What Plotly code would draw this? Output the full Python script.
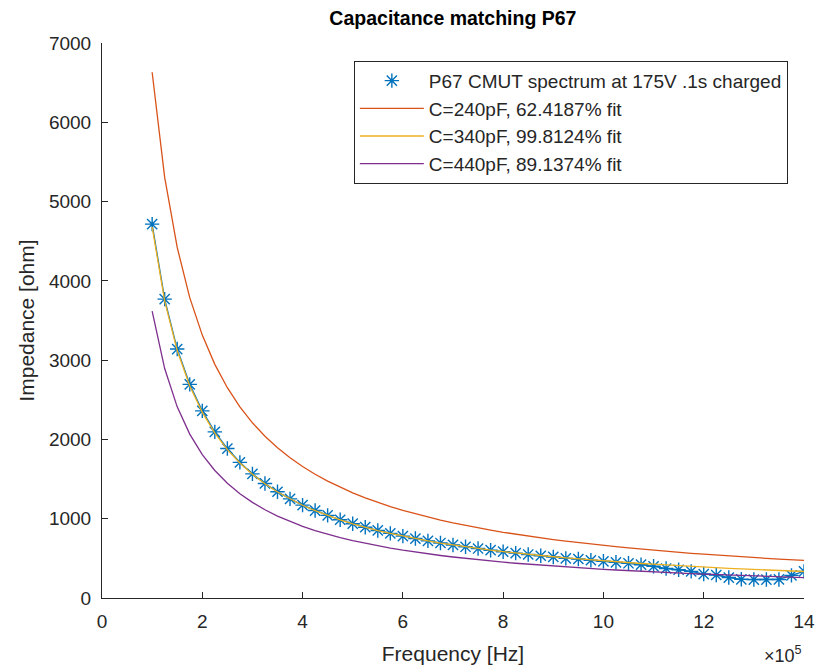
import plotly.graph_objects as go

# Frequency in units of 1e5 Hz
freq = [1.00, 1.25, 1.50, 1.75, 2.00, 2.25, 2.50, 2.75, 3.00, 3.25, 3.50, 3.75,
        4.00, 4.25, 4.50, 4.75, 5.00, 5.25, 5.50, 5.75, 6.00, 6.25, 6.50, 6.75,
        7.00, 7.25, 7.50, 7.75, 8.00, 8.25, 8.50, 8.75, 9.00, 9.25, 9.50, 9.75,
        10.00, 10.25, 10.50, 10.75, 11.00, 11.25, 11.50, 11.75, 12.00, 12.25,
        12.50, 12.75, 13.00, 13.25, 13.50, 13.75, 14.00]

measured = [4715, 3770, 3140, 2695, 2360, 2095, 1885, 1710, 1565, 1445, 1340, 1250,
            1172, 1103, 1042, 987, 937, 893, 852, 815, 781, 750, 721, 694,
            669, 646, 624, 603, 584, 566, 549, 533, 518, 500, 492, 476,
            463, 450, 438, 420, 400, 372, 356, 336, 302, 290,
            258, 236, 233, 233, 234, 285, 336]

fit_240 = [6631, 5305, 4421, 3789, 3316, 2947, 2652, 2411, 2210, 2040, 1895, 1768,
           1658, 1560, 1474, 1396, 1326, 1263, 1206, 1153, 1105, 1061, 1020, 982,
           947, 915, 884, 856, 829, 804, 780, 758, 737, 717, 698, 680,
           663, 647, 632, 617, 603, 589, 577, 564, 553, 541,
           530, 520, 510, 500, 491, 482, 474]

fit_340 = [4681, 3745, 3121, 2675, 2341, 2080, 1872, 1702, 1560, 1440, 1337, 1248,
           1170, 1101, 1040, 985, 936, 892, 851, 814, 780, 749, 720, 693,
           669, 646, 624, 604, 585, 567, 551, 535, 520, 506, 493, 480,
           468, 457, 446, 435, 426, 416, 407, 398, 390, 382,
           374, 367, 360, 353, 347, 340, 334]

fit_440 = [3617, 2894, 2411, 2067, 1809, 1608, 1447, 1315, 1206, 1113, 1033, 965,
           904, 851, 804, 761, 723, 689, 658, 629, 603, 579, 556, 536,
           517, 499, 482, 467, 452, 438, 426, 413, 402, 391, 381, 371,
           362, 353, 344, 336, 329, 322, 315, 308, 301, 295,
           289, 284, 278, 273, 268, 263, 258]

names = ["P67 CMUT spectrum at 175V .1s charged",
         "C=240pF, 62.4187% fit",
         "C=340pF, 99.8124% fit",
         "C=440pF, 89.1374% fit"]

BLUE, ORANGE, YELLOW, PURPLE = "#0072BD", "#D95319", "#EDB120", "#7E2F8E"
AX = "#262626"
FONT = "Arial, Liberation Sans, Helvetica, sans-serif"

fig = go.Figure()
fig.add_trace(go.Scatter(x=freq, y=measured, mode="lines",
                         line=dict(color=BLUE, width=1.3), showlegend=False,
                         hoverinfo="skip"))
fig.add_trace(go.Scatter(x=freq, y=measured, mode="markers", name=names[0],
                         marker=dict(symbol="asterisk-open", size=12, color=BLUE,
                                     line=dict(color=BLUE, width=1.4))))
fig.add_trace(go.Scatter(x=freq, y=fit_240, mode="lines", name=names[1],
                         line=dict(color=ORANGE, width=1.3)))
fig.add_trace(go.Scatter(x=freq, y=fit_340, mode="lines", name=names[2],
                         line=dict(color=YELLOW, width=1.3)))
fig.add_trace(go.Scatter(x=freq, y=fit_440, mode="lines", name=names[3],
                         line=dict(color=PURPLE, width=1.3)))

axis_common = dict(showgrid=False, zeroline=False, showline=True, linecolor=AX,
                   linewidth=1, ticks="inside", ticklen=6, tickcolor=AX,
                   automargin=False,
                   tickfont=dict(family=FONT, size=19, color=AX), mirror=False)

fig.update_layout(
    width=819, height=669,
    margin=dict(l=102, r=15, t=43, b=71),
    plot_bgcolor="white", paper_bgcolor="white",
    title=dict(text="<b>Capacitance matching P67</b>", x=0.553, xanchor="center",
               y=0.973, yanchor="middle",
               font=dict(family=FONT, size=19.5, color="black")),
    xaxis=dict(range=[0, 14], dtick=2, tick0=0, ticklabelstandoff=6,
               title=dict(text="Frequency [Hz]", standoff=15,
                          font=dict(family=FONT, size=21, color=AX)),
               **axis_common),
    yaxis=dict(range=[0, 7000], dtick=1000, tick0=0, ticklabelstandoff=6,
               title=dict(text="Impedance [ohm]", standoff=8,
                          font=dict(family=FONT, size=21, color=AX)),
               **axis_common),
    legend=dict(x=0.977, y=0.968, xanchor="right", yanchor="top",
                bgcolor="white", bordercolor=AX, borderwidth=1,
                font=dict(family=FONT, size=19, color=AX),
                tracegroupgap=0, itemwidth=64),
    annotations=[dict(text="×10<sup>5</sup>", xref="paper", yref="paper",
                      x=1.0, y=-0.077, xanchor="right", yanchor="top",
                      showarrow=False,
                      font=dict(family=FONT, size=18, color=AX))],
)

fig.write_html("out.html")
